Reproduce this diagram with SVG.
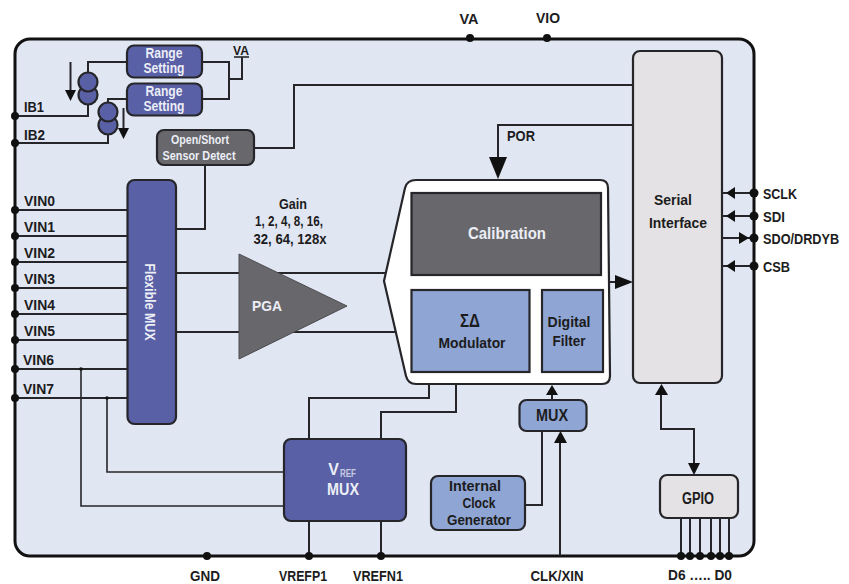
<svg xmlns="http://www.w3.org/2000/svg" width="849" height="584" viewBox="0 0 849 584">
<style>
svg{font-size:15.5px}
text{font-family:"Liberation Sans",Arial,sans-serif;font-weight:700;fill:#1c1c20;text-anchor:middle}
.s{text-anchor:start}
.w{fill:#eceef6}
.blk{stroke:#26262a;stroke-width:2.2}
.dk{fill:#5a60a6}
.lt{fill:#8fa5d3}
.gr{fill:#e4e2e4}
.gd{fill:#68686c}
#wires path{fill:none;stroke:#26262a;stroke-width:2}
#wires .t{stroke-width:1.6}
#dots circle{fill:#111}
#arrows path{fill:#111}
#arrows .l{fill:none;stroke:#26262a;stroke-width:2}
</style>
<rect id="chip" x="15" y="39" width="739" height="517" rx="15" fill="#e1e6f3" stroke="#111" stroke-width="3"/>
<g id="wires">
<path d="M127 62H88V80M88 105V116H15M127 99H108V105M108 130V143H15"/>
<path d="M202 62H229V99H202M229 79H242V57"/>
<path d="M234 57H249" class="t"/>
<path d="M254 148H294V85H633M205 165V229H176"/>
<path d="M15 210H127M15 236H127M15 262H127M15 288H127M15 314H127M15 340H127M15 369H127M15 398H127"/>
<path d="M81 369V506H284M107 398V472H284" class="t"/>
<path d="M176 273H385M176 332H403"/>
<path d="M636 125H498V160M309 439V398H429V384M381 439V412H456V384M309 521V556M381 521V556"/>
<path d="M529 331H542M552 400V390M542 431V505H525M560 556V435M610 282H618M661 392V429H694V465"/>
<path d="M722 193H754M722 216H754M722 238H754M722 266H754"/>
<path d="M681 518V556M690 518V556M700 518V556M711 518V556M720 518V556M729 518V556"/>
</g>
<g id="range1"><rect class="blk dk" x="127" y="45.500" width="75" height="32" rx="7"/><text class="w" x="164" y="58" font-size="14" textLength="37" lengthAdjust="spacingAndGlyphs">Range</text><text class="w" x="164" y="73" font-size="14" textLength="41" lengthAdjust="spacingAndGlyphs">Setting</text></g>
<g id="range2"><rect class="blk dk" x="127" y="83.500" width="75" height="32" rx="7"/><text class="w" x="164" y="96" font-size="14" textLength="37" lengthAdjust="spacingAndGlyphs">Range</text><text class="w" x="164" y="111" font-size="14" textLength="41" lengthAdjust="spacingAndGlyphs">Setting</text></g>
<g id="source1"><circle class="blk dk" cx="88" cy="95" r="9.500"/><circle class="blk dk" cx="88" cy="82" r="9.500"/></g>
<g id="source2"><circle class="blk dk" cx="108" cy="125" r="9.500"/><circle class="blk dk" cx="108" cy="112" r="9.500"/></g>
<g id="sensor"><rect class="blk gd" x="157" y="130" width="97" height="35" rx="7"/><text class="w" x="200" y="144" font-size="13" textLength="58" lengthAdjust="spacingAndGlyphs">Open/Short</text><text class="w" x="199" y="160" font-size="13" textLength="73" lengthAdjust="spacingAndGlyphs">Sensor Detect</text></g>
<g id="flexmux"><rect class="blk dk" x="127.500" y="180" width="48.500" height="244" rx="7"/><text class="w" transform="translate(145 302) rotate(90)" font-size="15" textLength="77" lengthAdjust="spacingAndGlyphs">Flexible MUX</text></g>
<g id="pga"><polygon points="239,254 347,306 239,359" fill="#68686c" stroke="#4c4c50"/><text class="w" x="267" y="311" font-size="15.500" textLength="30" lengthAdjust="spacingAndGlyphs">PGA</text></g>
<g id="adc">
<path class="blk" fill="#fff" d="M405 188Q407 180 416 180H600Q608 180 608 188L610 376Q610 384 602 384H416Q408 384 406 376L384 281Z"/>
<g id="calibration"><rect class="blk gd" x="411.500" y="193" width="189.500" height="82"/><text class="w" x="507" y="239" font-size="17" textLength="78" lengthAdjust="spacingAndGlyphs">Calibration</text></g>
<g id="modulator"><rect class="blk lt" x="411.500" y="290" width="118" height="82"/><text x="470" y="327" font-size="18" textLength="20" lengthAdjust="spacingAndGlyphs">ΣΔ</text><text x="472" y="348" font-size="15.500" textLength="67" lengthAdjust="spacingAndGlyphs">Modulator</text></g>
<g id="filter"><rect class="blk lt" x="542" y="290" width="61" height="82"/><text x="569" y="327" font-size="15.500" textLength="43" lengthAdjust="spacingAndGlyphs">Digital</text><text x="569" y="346" font-size="15.500" textLength="33" lengthAdjust="spacingAndGlyphs">Filter</text></g>
</g>
<g id="serial"><rect class="blk gr" x="633" y="51" width="89" height="332" rx="7"/><text x="673" y="205" textLength="38" lengthAdjust="spacingAndGlyphs">Serial</text><text x="678" y="228" textLength="58" lengthAdjust="spacingAndGlyphs">Interface</text></g>
<g id="vrefmux"><rect class="blk dk" x="284" y="439" width="122" height="82" rx="7"/><text class="w" x="333.500" y="475" font-size="16">V</text><text class="w" x="348" y="477" font-size="10" textLength="16" lengthAdjust="spacingAndGlyphs" fill-opacity=".75">REF</text><text class="w" x="343" y="495" font-size="16" textLength="32" lengthAdjust="spacingAndGlyphs">MUX</text></g>
<g id="mux"><rect class="blk lt" x="519.500" y="400" width="67" height="31" rx="7"/><text x="552" y="421" font-size="16" textLength="32" lengthAdjust="spacingAndGlyphs">MUX</text></g>
<g id="clock"><rect class="blk lt" x="431" y="476" width="94" height="54" rx="7"/><text x="475" y="491" textLength="52" lengthAdjust="spacingAndGlyphs">Internal</text><text x="479" y="508" textLength="33" lengthAdjust="spacingAndGlyphs">Clock</text><text x="479" y="525" textLength="64" lengthAdjust="spacingAndGlyphs">Generator</text></g>
<g id="gpio"><rect class="blk gr" x="660" y="475" width="78" height="43" rx="7"/><text x="698" y="504" font-size="16" textLength="32" lengthAdjust="spacingAndGlyphs">GPIO</text></g>
<g id="arrows">
<path class="l" d="M70.500 62V92M123.500 108V130"/>
<path d="M65 90H76L70.500 101Z"/>
<path d="M118 128H129L123.500 139Z"/>
<path d="M489 157H507L498 179Z"/>
<path d="M615 275L633 282L615 289Z"/>
<path d="M546 395H558L552 385Z"/>
<path d="M554 443H567L560.500 431Z"/>
<path d="M655 395H668L661.500 384Z"/>
<path d="M688 463H700L694 475Z"/>
<path d="M735 187V199L726 193Z"/>
<path d="M735 210V222L726 216Z"/>
<path d="M739 232V244L749 238Z"/>
<path d="M735 260V272L726 266Z"/>
</g>
<g id="dots">
<circle cx="15" cy="116" r="4"/><circle cx="15" cy="143" r="4"/>
<circle cx="15" cy="210" r="4"/><circle cx="15" cy="236" r="4"/><circle cx="15" cy="262" r="4"/><circle cx="15" cy="288" r="4"/><circle cx="15" cy="314" r="4"/><circle cx="15" cy="340" r="4"/><circle cx="15" cy="369" r="4"/><circle cx="15" cy="398" r="4"/>
<circle cx="81" cy="369" r="1.800"/><circle cx="107" cy="398" r="1.800"/>
<circle cx="470" cy="38" r="4"/><circle cx="547" cy="38" r="4"/>
<circle cx="754" cy="193" r="4.500"/><circle cx="754" cy="216" r="4.500"/><circle cx="754" cy="238" r="4.500"/><circle cx="754" cy="266" r="4.500"/>
<circle cx="207" cy="556" r="4"/><circle cx="309" cy="556" r="4"/><circle cx="381" cy="556" r="4"/>
<circle cx="681" cy="556" r="4"/><circle cx="690" cy="556" r="4"/><circle cx="700" cy="556" r="4"/><circle cx="711" cy="556" r="4"/><circle cx="720" cy="556" r="4"/><circle cx="729" cy="556" r="4"/>
</g>
<g id="labels">
<text x="469" y="24" textLength="19" lengthAdjust="spacingAndGlyphs">VA</text><text x="548" y="23" textLength="24" lengthAdjust="spacingAndGlyphs">VIO</text>
<text x="241" y="55" font-size="13" textLength="16" lengthAdjust="spacingAndGlyphs">VA</text>
<text class="s" x="24" y="112" textLength="20" lengthAdjust="spacingAndGlyphs">IB1</text><text class="s" x="24" y="140" textLength="21" lengthAdjust="spacingAndGlyphs">IB2</text>
<text class="s" x="24" y="206" textLength="31" lengthAdjust="spacingAndGlyphs">VIN0</text><text class="s" x="24" y="232" textLength="31" lengthAdjust="spacingAndGlyphs">VIN1</text><text class="s" x="24" y="258" textLength="31" lengthAdjust="spacingAndGlyphs">VIN2</text><text class="s" x="24" y="284" textLength="31" lengthAdjust="spacingAndGlyphs">VIN3</text><text class="s" x="24" y="310" textLength="31" lengthAdjust="spacingAndGlyphs">VIN4</text><text class="s" x="24" y="336" textLength="31" lengthAdjust="spacingAndGlyphs">VIN5</text><text class="s" x="23" y="365" textLength="31" lengthAdjust="spacingAndGlyphs">VIN6</text><text class="s" x="23" y="394" textLength="31" lengthAdjust="spacingAndGlyphs">VIN7</text>
<text x="293" y="209" font-size="14" textLength="28" lengthAdjust="spacingAndGlyphs">Gain</text>
<text x="289" y="226" font-size="14" textLength="68" lengthAdjust="spacingAndGlyphs">1, 2, 4, 8, 16,</text>
<text x="290" y="244" font-size="14" textLength="73" lengthAdjust="spacingAndGlyphs">32, 64, 128x</text>
<text class="s" x="507" y="141" textLength="28" lengthAdjust="spacingAndGlyphs">POR</text>
<text class="s" x="763" y="199" textLength="34" lengthAdjust="spacingAndGlyphs">SCLK</text>
<text class="s" x="763" y="222" textLength="22" lengthAdjust="spacingAndGlyphs">SDI</text>
<text class="s" transform="translate(763 244) scale(.82 1)">SDO/DRDYB</text>
<text class="s" x="763" y="272" textLength="27" lengthAdjust="spacingAndGlyphs">CSB</text>
<text x="205" y="581" font-size="14.500" textLength="30" lengthAdjust="spacingAndGlyphs">GND</text>
<text x="303" y="581" font-size="14.500" textLength="48" lengthAdjust="spacingAndGlyphs">VREFP1</text>
<text x="378" y="581" font-size="14.500" textLength="50" lengthAdjust="spacingAndGlyphs">VREFN1</text>
<text x="557" y="581" font-size="14.500" textLength="53" lengthAdjust="spacingAndGlyphs">CLK/XIN</text>
<text x="700" y="580" font-size="14.500" textLength="64" lengthAdjust="spacingAndGlyphs">D6 ….. D0</text>
</g>
</svg>
